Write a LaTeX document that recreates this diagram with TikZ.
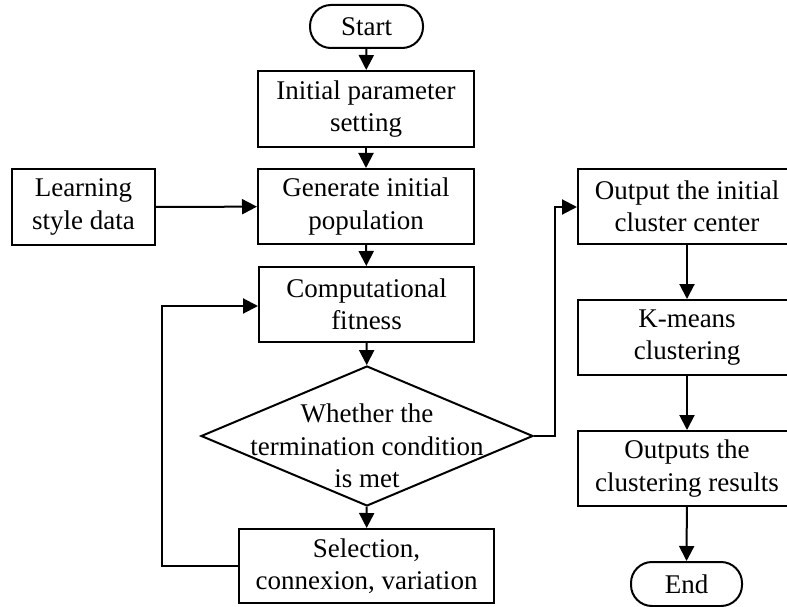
\documentclass[tikz,border=0pt]{standalone}
\usepackage{fontspec}
\setmainfont{Liberation Serif}
\usetikzlibrary{arrows.meta,shapes.geometric}
\begin{document}
\begin{tikzpicture}[x=1pt,y=-1pt,
  every node/.style={font=\fontsize{27}{32.5}\selectfont, align=center, inner sep=0pt},
  box/.style={draw, line width=2pt, rectangle},
  term/.style={draw, line width=2pt, rectangle, rounded corners=21pt},
  flow/.style={line width=2pt, -{Triangle[length=15pt,width=15pt]}}]
\useasboundingbox (0,0) rectangle (787,607);
\clip (0,0) rectangle (787,607);
\node[term, minimum width=113pt, minimum height=43pt] (start) at (366.5,26.5) {Start};
\node[box, minimum width=216pt, minimum height=76pt] (init) at (366,109) {Initial parameter\\setting};
\node[box, minimum width=216pt, minimum height=75pt] (gen) at (366,206.5) {Generate initial\\population};
\node[box, minimum width=143pt, minimum height=76pt] (learn) at (83.5,207) {Learning\\style data};
\node[box, minimum width=215pt, minimum height=75pt] (comp) at (366.5,304.5) {Computational\\fitness};
\node[draw, line width=2pt, diamond, minimum width=332pt, minimum height=140pt] (dec) at (367,436) {};
\node (dectext) at (367,446) {Whether the\\termination condition\\is met};
\node[box, minimum width=255pt, minimum height=74pt] (sel) at (366.5,566) {Selection,\\connexion, variation};
\node[box, minimum width=218pt, minimum height=75pt] (out) at (687,206.5) {Output the initial\\cluster center};
\node[box, minimum width=218pt, minimum height=75pt] (km) at (687,337.5) {K-means\\clustering};
\node[box, minimum width=218pt, minimum height=75pt] (res) at (687,468.5) {Outputs the\\clustering results};
\node[term, minimum width=111pt, minimum height=44pt] (end) at (686.5,584) {End};
\coordinate (loopA) at (162,566);
\coordinate (loopB) at (162,306);
\coordinate (rA) at (555,436);
\coordinate (rB) at (555,207);
\draw[flow] (start) -- (init);
\draw[flow] (init) -- (gen);
\draw[flow] (learn) -- (gen);
\draw[flow] (gen) -- (comp);
\draw[flow] (comp) -- (dec);
\draw[flow] (dec) -- (sel);
\draw[flow] (sel.west) -- (loopA) -- (loopB) -- (comp.west |- loopB);
\draw[flow] (dec.east) -- (rA) -- (rB) -- (out.west |- rB);
\draw[flow] (out) -- (km);
\draw[flow] (km) -- (res);
\draw[flow] (res) -- (end);
\end{tikzpicture}
\end{document}
